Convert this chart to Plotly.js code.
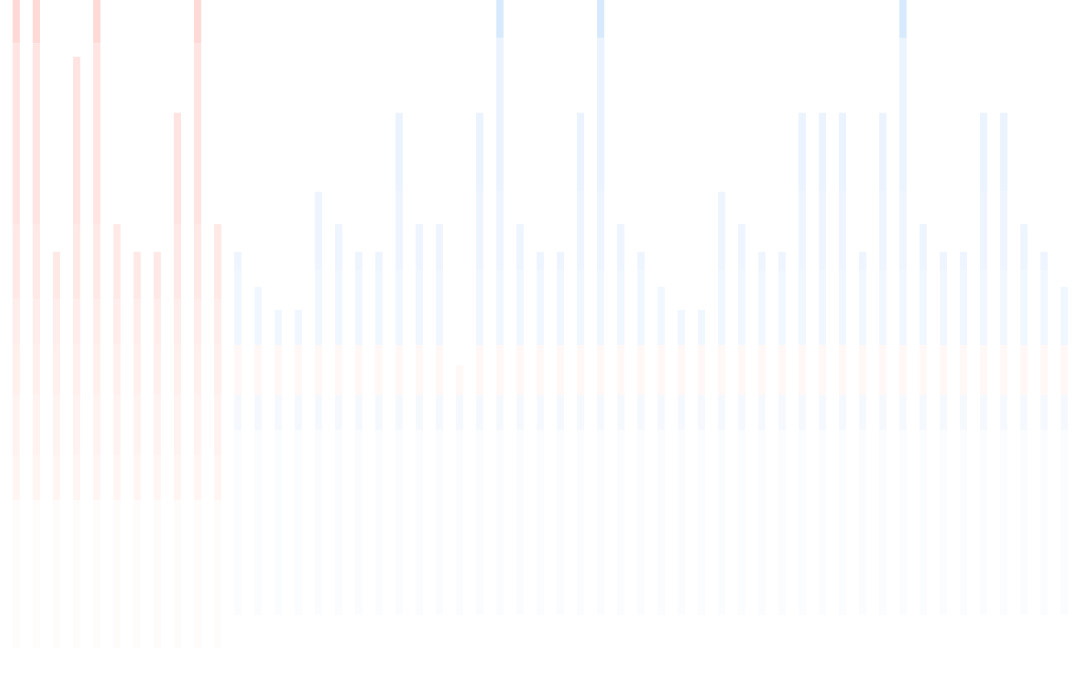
<!DOCTYPE html>
<html>
<head>
<meta charset="utf-8">
<script src="https://cdn.plot.ly/plotly-3.0.1.min.js"></script>
<style>html,body{margin:0;padding:0;background:#fff;}#chart{width:1080px;height:675px;}</style>
</head>
<body>
<div id="chart"></div>
<script>
// ---- data (bar heights, % of chart height; values above 100 run off the top) ----
const redItems = [1,2,3,4,5,6,7,8,9,10,11];
const redValues = [110,110,62.7,91.6,110,66.8,62.7,62.7,83.3,110,66.8];
const blueItems = [12,13,14,15,16,17,18,19,20,21,22,23,24,25,26,27,28,29,30,31,32,33,34,35,36,37,38,39,40,41,42,43,44,45,46,47,48,49,50,51,52,53];
const blueValues = [62.7,57.5,54.1,54.1,71.6,66.8,62.7,62.7,83.3,66.8,
                    66.8,45.9,83.3,110,66.8,62.7,62.7,83.3,110,66.8,
                    62.7,57.5,54.1,54.1,71.6,66.8,62.7,62.7,83.3,83.3,
                    83.3,62.7,83.3,110,66.8,62.7,62.7,83.3,83.3,66.8,
                    62.7,57.5];

// ---- style: faded horizontal bands (lo, hi, colour) ----
const redBands = [
  [4.0, 25.9, '#FEFBFB'],
  [25.9, 32.6, '#FFF6F4'],
  [32.6, 41.5, '#FFF3F1'],
  [41.5, 48.9, '#FFF0EE'],
  [48.9, 55.6, '#FFEDEB'],
  [55.6, 66.7, '#FFE9E7'],
  [66.7, 93.6, '#FFE4E2'],
  [93.6, 1000, '#FFD9D5']
];
const blueBands = [
  [8.9, 36.3, '#FBFCFE'],
  [36.3, 41.5, '#F5F9FE'],
  [41.5, 48.9, '#FFF8F6'],
  [48.9, 60.0, '#F1F7FE'],
  [60.0, 71.6, '#EEF5FE'],
  [71.6, 94.4, '#EAF3FE'],
  [94.4, 1000, '#D7E9FC']
];

function bandTraces(items, values, bands) {
  return bands.map(([lo, hi, color]) => ({
    type: 'bar',
    x: items,
    base: items.map(() => lo),
    y: values.map(v => v > lo ? Math.min(v, hi) - lo : null),
    marker: {color: color, line: {width: 0}},
    hoverinfo: 'skip',
    showlegend: false
  }));
}

const traces = [].concat(
  bandTraces(redItems, redValues, redBands),
  bandTraces(blueItems, blueValues, blueBands)
);

const layout = {
  width: 1080, height: 675,
  margin: {l: 0, r: 0, t: 0, b: 0, pad: 0},
  paper_bgcolor: '#ffffff',
  plot_bgcolor: '#ffffff',
  barmode: 'overlay',
  bargap: 0.64,
  showlegend: false,
  hovermode: false,
  xaxis: {range: [0.196, 53.783], visible: false, fixedrange: true},
  yaxis: {range: [0, 100], visible: false, fixedrange: true}
};

Plotly.newPlot('chart', traces, layout, {displayModeBar: false, staticPlot: true});
</script>
</body>
</html>
